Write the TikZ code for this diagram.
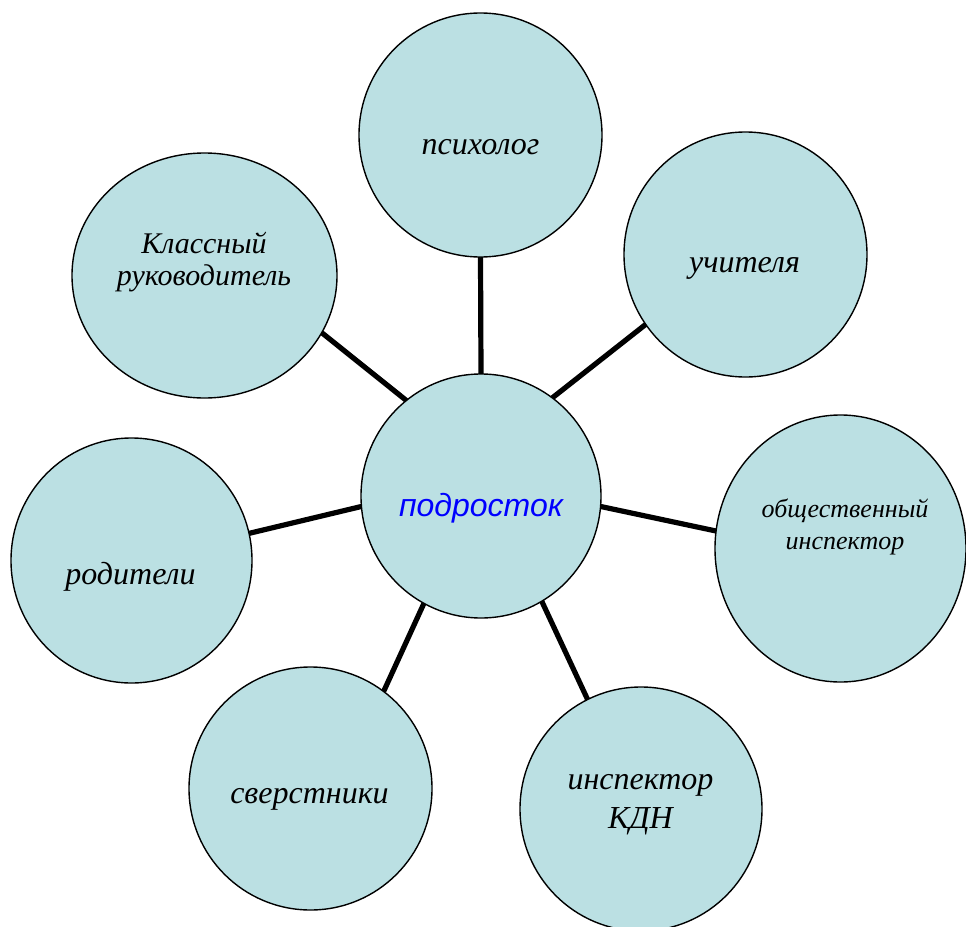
\documentclass[tikz,border=0pt]{standalone}
\usepackage{fontspec}
\setmainfont{Liberation Serif}
\newfontfamily\arialf{Liberation Sans}
\usetikzlibrary{shapes.geometric}
\definecolor{bubble}{RGB}{187,224,227}
\definecolor{blueT}{RGB}{0,0,255}
\pgfdeclarelayer{bg}
\pgfsetlayers{bg,main}
\begin{document}
\begin{tikzpicture}[x=1pt,y=-1pt,
  bub/.style={ellipse, draw=black, line width=1.4pt, fill=bubble, inner sep=0pt, outer sep=0pt},
  lbl/.style={align=center, inner sep=0pt, anchor=base, text=black},
  link/.style={line width=5.2pt}]
\useasboundingbox (0,0) rectangle (966,926);
% bubbles
\node[bub, minimum width=240pt, minimum height=244pt] (c) at (481,496) {};
\node[bub, minimum width=243pt, minimum height=244pt] (psy) at (480.5,135) {};
\node[bub, minimum width=243pt, minimum height=245pt] (uch) at (745.5,254.5) {};
\node[bub, minimum width=251pt, minimum height=267pt] (obs) at (840.5,548.5) {};
\node[bub, minimum width=242pt, minimum height=244pt] (kdn) at (641,809) {};
\node[bub, minimum width=243pt, minimum height=243pt] (sve) at (310.5,788.5) {};
\node[bub, minimum width=241pt, minimum height=245pt] (rod) at (131.5,560.5) {};
\node[bub, minimum width=265pt, minimum height=245pt] (kla) at (204.5,275.5) {};
% connectors
\begin{pgfonlayer}{bg}
\draw[link] (c.128.4) -- (kla.-26);
\draw[link] (c.90) -- (psy.270);
\draw[link] (c.54.4) -- (uch.215.7);
\draw[link] (c.-5.1) -- (obs.172.3);
\draw[link] (c.-60.1) -- (kdn.116.1);
\draw[link] (c.242.1) -- (sve.53.7);
\draw[link] (c.185.8) -- (rod.13.9);
\end{pgfonlayer}
% labels
\node[lbl, font=\arialf\itshape\fontsize{32}{36}\selectfont, text=blueT] (tc) at (481,516) {подросток};
\node[lbl, font=\itshape\fontsize{32}{36}\selectfont] (tpsy) at (480.5,154) {психолог};
\node[lbl, font=\itshape\fontsize{32}{36}\selectfont] (tuch) at (744.5,272) {учителя};
\node[lbl, font=\itshape\fontsize{32}{36}\selectfont] (trod) at (130.5,584) {родители};
\node[lbl, font=\itshape\fontsize{32}{36}\selectfont] (tsve) at (309.5,803) {сверстники};
\node[lbl, font=\itshape\fontsize{30}{32}\selectfont] (tkla) at (204,285) {Классный\\руководитель};
\node[lbl, font=\itshape\fontsize{32}{39}\selectfont] (tkdn) at (640.5,828) {инспектор\\КДН};
\node[lbl, font=\itshape\fontsize{26}{32}\selectfont] (tobs) at (845,549) {общественный\\инспектор};
\end{tikzpicture}
\end{document}
